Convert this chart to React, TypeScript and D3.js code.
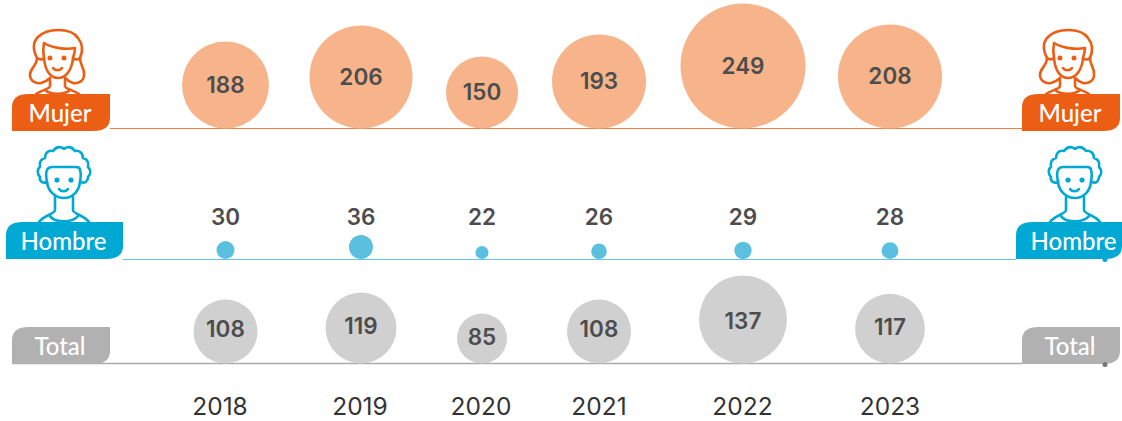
import * as d3 from 'd3';

const WIDTH = 1122;
const HEIGHT = 421;

const YEARS = ['2018', '2019', '2020', '2021', '2022', '2023'];
const MUJER = [188, 206, 150, 193, 249, 208];
const HOMBRE = [30, 36, 22, 26, 29, 28];
const TOTAL = [108, 119, 85, 108, 137, 117];

// the years are not evenly spaced in the original
const x = d3.scaleOrdinal<string, number>().domain(YEARS).range([225.5, 361, 482, 599, 743, 890]);
// year captions do not sit exactly under the bubbles
const xYear = d3.scaleOrdinal<string, number>().domain(YEARS).range([220, 360, 481, 599, 742.5, 890]);

// bubble sizes in the original are hand placed, so the scales have a few knots
const rMujer = d3.scaleLinear().domain([150, 188, 193, 206, 249]).range([36, 43.5, 47, 51.5, 62.5]);
const rHombre = d3.scaleLinear().domain([22, 30, 36]).range([6.5, 9, 12]);
const rTotal = d3.scaleLinear().domain([85, 108, 119, 137]).range([25, 32, 35.5, 44]);
const yTotalLabel = d3.scaleLinear().domain([85, 108, 119, 137]).range([345, 337, 334, 329]);

const BASE_MUJER = 128.5;
const BASE_HOMBRE = 259.5;
const BASE_TOTAL = 363.5;

const ORANGE = '#EB5E14';
const BLUE = '#00A9D4';
const GREY = '#B1B1B1';
const TEXT = '#4D4D4D';
const FONT = 'Inter, sans-serif';

// rounded top-left and bottom-right corners only
function tagPath(x0: number, y0: number, w: number, h: number, r: number) {
  const p = d3.path();
  p.moveTo(x0 + r + 4, y0);
  p.lineTo(x0 + w, y0);
  p.lineTo(x0 + w, y0 + h - r);
  p.quadraticCurveTo(x0 + w, y0 + h, x0 + w - r - 4, y0 + h);
  p.lineTo(x0, y0 + h);
  p.lineTo(x0, y0 + r);
  p.quadraticCurveTo(x0, y0, x0 + r + 4, y0);
  p.closePath();
  return p.toString();
}

function Tag({ x0, y0, w, cx, color, label }: { x0: number; y0: number; w: number; cx: number; color: string; label: string }) {
  return (
    <g>
      <path d={tagPath(x0, y0, w, 37, 13)} fill={color} />
      <text
        x={cx}
        y={y0 + 27.5}
        textAnchor="middle"
        fill="#fff"
        fontFamily="Lato, sans-serif"
        fontSize={24}
        fontWeight={500}
      >
        {label}
      </text>
    </g>
  );
}

function Woman({ dx }: { dx: number }) {
  return (
    <g transform={`translate(${dx},0)`} fill="none" stroke={ORANGE} strokeWidth={2.6} strokeLinecap="round" strokeLinejoin="round">
      <path d="M37 58 C33 50 33 42 38 37 C44 31 51 30 58 30 C66 30 74 32 78 38 C83 44 83 51 80 58" />
      <path d="M37 58 C40 60 42 60 44 58 C43 53 43 48 44 43 C52 48 66 50 75 48 C75 52 74 55 73 58 C75 60 78 60 80 58" />
      <path d="M44 58 C45 70 50 78 58 78 C66 78 72 70 73 58" />
      <path d="M37 58 C37 66 30 68 30 75 C30 81 36 84 41 83 C45 82 48 80 50 78" />
      <path d="M80 58 C80 66 85 68 84 75 C84 81 78 84 73 83 C70 82 67 80 65 78" />
      <path d="M50 79 L50 86 C50 89 42 90 36 94" />
      <path d="M65 79 L65 86 C65 89 73 90 79 94" />
      <path d="M45 90 C50 95 65 95 70 90" />
      <path d="M53 68 C55 71 60 71 62 68" />
      <circle cx={50} cy={58} r={1.2} fill={ORANGE} />
      <circle cx={64} cy={58} r={1.2} fill={ORANGE} />
    </g>
  );
}

function Man({ dx }: { dx: number }) {
  return (
    <g transform={`translate(${dx},0)`} fill="none" stroke={BLUE} strokeWidth={2.6} strokeLinecap="round" strokeLinejoin="round">
      <path d="M47 182 C43 184 39 181 40 177 C37 174 37 169 40 167 C39 162 41 159 45 158 C45 153 48 150 53 151 C56 147 60 146 64 149 C68 146 72 147 75 151 C79 150 83 153 83 158 C87 159 89 162 88 167 C91 170 91 174 88 177 C88 181 85 184 81 182" />
      <path d="M47 182 C46 177 46 172 47 170 C48 168 49 167 52 167 L76 167 C79 167 80 168 80 170 C81 173 81 177 80 182" />
      <path d="M47 182 C48 191 55 198 64 198 C73 198 79 191 80 182" />
      <path d="M55 197 L55 210 C55 214 44 215 39 222" />
      <path d="M73 197 L73 210 C73 214 84 215 89 222" />
      <path d="M50 216 C54 223 73 223 78 216" />
      <path d="M59 189 C61 192 66 192 68 189" />
      <circle cx={57} cy={180} r={1.3} fill={BLUE} />
      <circle cx={71} cy={180} r={1.3} fill={BLUE} />
    </g>
  );
}

function Bubbles({ values, r, base, color }: { values: number[]; r: (v: number) => number; base: number; color: string }) {
  return (
    <g>
      {values.map((v, i) => (
        <circle key={YEARS[i]} cx={x(YEARS[i])} cy={base - r(v)} r={r(v)} fill={color} />
      ))}
    </g>
  );
}

export default function App() {
  return (
    <svg
      width={WIDTH}
      height={HEIGHT}
      viewBox={`0 0 ${WIDTH} ${HEIGHT}`}
      style={{ position: 'absolute', left: 0, top: 0, display: 'block', background: '#fff' }}
    >
      {/* baselines */}
      <line x1={110} x2={1022} y1={BASE_MUJER} y2={BASE_MUJER} stroke="#EF8142" strokeWidth={1} />
      <line x1={123} x2={1016} y1={BASE_HOMBRE} y2={BASE_HOMBRE} stroke="#62C6E2" strokeWidth={1} />
      <line x1={12} x2={1022} y1={BASE_TOTAL} y2={BASE_TOTAL} stroke="#ABABAB" strokeWidth={1.4} />

      {/* bubbles */}
      <Bubbles values={MUJER} r={rMujer} base={BASE_MUJER} color="#F7B48A" />
      <Bubbles values={HOMBRE} r={rHombre} base={BASE_HOMBRE - 0.5} color="#5BC0E0" />
      <Bubbles values={TOTAL} r={rTotal} base={BASE_TOTAL} color="#D0D0D0" />

      {/* value labels */}
      <g fontFamily={FONT} fontWeight={600} fontSize={22.5} fill={TEXT} textAnchor="middle">
        {MUJER.map((v, i) => (
          <text key={YEARS[i]} x={x(YEARS[i])} y={BASE_MUJER - rMujer(v) + 7.5}>{v}</text>
        ))}
        {HOMBRE.map((v, i) => (
          <text key={YEARS[i]} x={x(YEARS[i])} y={225}>{v}</text>
        ))}
        {TOTAL.map((v, i) => (
          <text key={YEARS[i]} x={x(YEARS[i])} y={yTotalLabel(v)}>{v}</text>
        ))}
      </g>

      {/* year labels */}
      <g fontFamily={FONT} fontSize={24.5} fill="#333" textAnchor="middle">
        {YEARS.map((y) => (
          <text key={y} x={xYear(y)} y={415}>{y}</text>
        ))}
      </g>

      {/* icons, both sides */}
      <Woman dx={0} />
      <Woman dx={1010} />
      <Man dx={0} />
      <Man dx={1011} />

      {/* tags */}
      <Tag x0={12} y0={94} w={98} cx={60} color={ORANGE} label="Mujer" />
      <Tag x0={1022} y0={94} w={98} cx={1070} color={ORANGE} label="Mujer" />
      <Tag x0={6} y0={222} w={117} cx={63.5} color={BLUE} label="Hombre" />
      <Tag x0={1016} y0={222} w={106} cx={1073.5} color={BLUE} label="Hombre" />
      <Tag x0={12} y0={327} w={98} cx={60} color={GREY} label="Total" />
      <Tag x0={1022} y0={327} w={98} cx={1070} color={GREY} label="Total" />
      <circle cx={1105} cy={259.5} r={2.5} fill={BLUE} />
      <circle cx={1105} cy={364.5} r={2.5} fill="#777" />
    </svg>
  );
}
